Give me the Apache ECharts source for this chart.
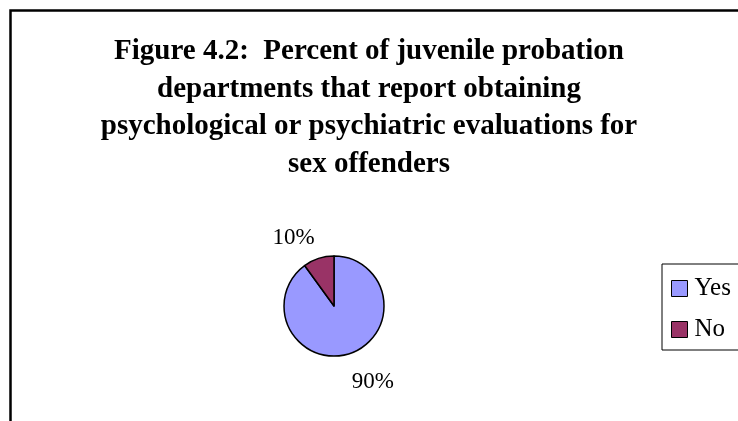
<!DOCTYPE html>
<html>
<head>
<meta charset="utf-8">
<script src="https://cdn.jsdelivr.net/npm/echarts@6/dist/echarts.min.js"></script>
<style>
  html, body { margin: 0; padding: 0; background: #fff; }
  #chart { width: 738px; height: 421px; }
</style>
</head>
<body>
<div id="chart"></div>
<script>
// Responses to the evaluation question
const categories = ['Yes', 'No'];
const percents = [90, 10];
const colors = ['#9999FF', '#993366'];

const titleLines = [
  'Figure 4.2:  Percent of juvenile probation',
  'departments that report obtaining',
  'psychological or psychiatric evaluations for',
  'sex offenders'
];

const serif = '"Liberation Serif", "Times New Roman", serif';

// Per-slice label placement around the pie
const labelLineLengths = [30, 22];
const labelShifts = [-7, -3];

const chart = echarts.init(document.getElementById('chart'), null, { renderer: 'canvas' });

chart.setOption({
  animation: false,
  backgroundColor: '#fff',
  graphic: [{
    type: 'rect',
    shape: { x: 10.5, y: 10.5, width: 900, height: 600 },
    style: { fill: 'none', stroke: '#000', lineWidth: 2.5 },
    silent: true
  }],
  title: {
    text: titleLines.join('\n'),
    left: 'center',
    top: 28,
    textStyle: {
      fontFamily: serif,
      fontWeight: 'bold',
      fontSize: 29,
      lineHeight: 37.5,
      color: '#000'
    }
  },
  legend: {
    orient: 'vertical',
    left: 662,
    top: 264,
    padding: [12, 40, 8, 9],
    itemGap: 16,
    itemWidth: 16,
    itemHeight: 16,
    icon: 'rect',
    borderColor: '#000',
    borderWidth: 1,
    itemStyle: { borderColor: '#000', borderWidth: 1 },
    textStyle: { fontFamily: serif, fontSize: 25, color: '#000', padding: [0, 0, 0, 2] },
    data: categories
  },
  series: [{
    type: 'pie',
    center: [334, 306],
    radius: 50,
    startAngle: 90,
    clockwise: true,
    avoidLabelOverlap: false,
    itemStyle: { borderColor: '#000', borderWidth: 1.5 },
    label: {
      show: true,
      position: 'outside',
      formatter: '{c}%',
      fontFamily: serif,
      fontSize: 23,
      color: '#000'
    },
    labelLine: { show: false, length2: 0 },
    data: categories.map((name, i) => ({
      name,
      value: percents[i],
      itemStyle: { color: colors[i] },
      label: { distanceToLabelLine: labelShifts[i] },
      labelLine: { show: false, length: labelLineLengths[i], length2: 0 }
    }))
  }]
});
</script>
</body>
</html>
